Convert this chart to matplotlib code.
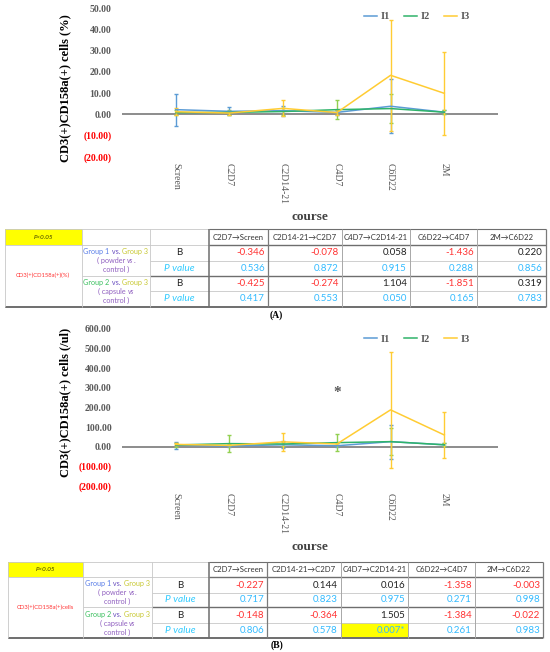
import numpy as np
import matplotlib
matplotlib.use("Agg")
import matplotlib.pyplot as plt
from matplotlib.patches import Rectangle
from matplotlib.lines import Line2D

W, H = 550, 652
SERIF = "Liberation Serif"
SANS = ["Lato", "DejaVu Sans"]

cats = ["Screen", "C2D7", "C2D14-21", "C4D7", "C6D22", "2M"]
series = ["I1", "I2", "I3"]

# chart A: CD3(+)CD158a(+) cells (%)
pct_i1 = [2.2, 1.4, 1.7, 0.9, 3.8, 1.0]
pct_i1_err = [7.5, 1.9, 2.4, 1.0, 12.7, 1.0]
pct_i2 = [0.8, 0.9, 1.3, 2.2, 2.7, 1.0]
pct_i2_err = [1.0, 1.0, 1.5, 4.5, 7.0, 1.0]
pct_i3 = [1.2, 0.6, 2.8, 0.8, 18.4, 9.9]
pct_i3_err = [1.7, 1.0, 3.8, 1.0, 26.3, 19.5]

# chart B: CD3(+)CD158a(+) cells (/ul)
cnt_i1 = [8, 4, 10, 5, 26, 10]
cnt_i1_err = [18, 6, 17, 6, 86, 8]
cnt_i2 = [9, 16, 14, 21, 26, 10]
cnt_i2_err = [8, 43, 10, 42, 70, 8]
cnt_i3 = [12, 7, 25, 14, 188, 60]
cnt_i3_err = [5, 5, 45, 5, 295, 115]

# tables
steps = ["C2D7\u2192Screen", "C2D14-21\u2192C2D7", "C4D7\u2192C2D14-21",
         "C6D22\u2192C4D7", "2M\u2192C6D22"]
a_b_g1 = [-0.346, -0.078, 0.058, -1.436, 0.220]
a_p_g1 = [0.536, 0.872, 0.915, 0.288, 0.856]
a_b_g2 = [-0.425, -0.274, 1.104, -1.851, 0.319]
a_p_g2 = [0.417, 0.553, 0.050, 0.165, 0.783]
b_b_g1 = [-0.227, 0.144, 0.016, -1.358, -0.003]
b_p_g1 = [0.717, 0.823, 0.975, 0.271, 0.998]
b_b_g2 = [-0.148, -0.364, 1.505, -1.384, -0.022]
b_p_g2 = [0.806, 0.578, 0.007, 0.261, 0.983]

line_cols = ["#5B9BD5", "#2FB36A", "#FFCC33"]
err_cols = ["#5B9BD5", "#92D050", "#FFCC33"]
GRAY = "#595959"

fig = plt.figure(figsize=(W / 100, H / 100), dpi=100)
bg = fig.add_axes([0, 0, 1, 1])
bg.set_xlim(0, W)
bg.set_ylim(H, 0)
bg.axis("off")


def px_axes(x0, x1, y0, y1):
    return fig.add_axes([x0 / W, 1 - y1 / H, (x1 - x0) / W, (y1 - y0) / H])


def fmt_tick(v):
    return "%.2f" % v if v >= 0 else "(%.2f)" % abs(v)


def draw_chart(ax, vals, errs, ylim, step, ylabel, ylab_pos, xlab_y, leg_y):
    x = np.arange(len(cats))
    for v, e, lc, ec in zip(vals, errs, line_cols, err_cols):
        ax.errorbar(x, v, yerr=e, color=lc, ecolor=ec, lw=1.1, elinewidth=1.0,
                    capsize=1.6, capthick=1.0)
    ax.axhline(0, color="#8C8C8C", lw=1.4, zorder=0)
    ax.set_xlim(-1, 6)
    ax.set_ylim(*ylim)
    ticks = np.arange(ylim[0], ylim[1] + step / 2, step)
    ax.set_yticks(ticks)
    ax.set_yticklabels([fmt_tick(t) for t in ticks], fontfamily=SERIF,
                       fontweight="bold", fontsize=7)
    for lab, t in zip(ax.get_yticklabels(), ticks):
        lab.set_color("#FF0000" if t < 0 else GRAY)
    ax.tick_params(axis="y", length=0, pad=7.5)
    ax.set_xticks(x)
    ax.set_xticklabels(cats, rotation=270, fontfamily=SERIF, fontsize=7, color=GRAY)
    ax.tick_params(axis="x", length=0, pad=4.7)
    for s in ax.spines.values():
        s.set_visible(False)
    ax.patch.set_alpha(0)
    ax.set_ylabel(ylabel, fontfamily=SERIF, fontweight="bold", fontsize=9)
    ax.yaxis.set_label_coords(*ylab_pos)
    ax.set_xlabel("course", fontfamily=SERIF, fontweight="bold", fontsize=9.5,
                  color="#404040")
    ax.xaxis.set_label_coords(0.5, xlab_y)
    handles = [Line2D([], [], color=c, lw=1.1) for c in line_cols]
    leg = ax.legend(handles, series, loc="center left", bbox_to_anchor=(0.644, leg_y),
                    ncol=3, frameon=False, handlelength=1.25, handletextpad=0.3,
                    columnspacing=1.4, borderaxespad=0, borderpad=0,
                    prop=dict(family=SERIF, weight="bold", size=7.5))
    for t in leg.get_texts():
        t.set_color(GRAY)


ax1 = px_axes(122, 498, 8.3, 156.7)
draw_chart(ax1, [pct_i1, pct_i2, pct_i3], [pct_i1_err, pct_i2_err, pct_i3_err],
           (-20, 50), 10, "CD3(+)CD158a(+) cells (%)", (-0.136, 0.46), -0.366, 0.943)

ax2 = px_axes(122, 498, 329, 486)
draw_chart(ax2, [cnt_i1, cnt_i2, cnt_i3], [cnt_i1_err, cnt_i2_err, cnt_i3_err],
           (-200, 600), 100, "CD3(+)CD158a(+) cells (/ul)", (-0.136, 0.53), -0.348, 0.934)
ax2.annotate("*", xy=(3, 294), xytext=(0, -5), textcoords="offset points",
             ha="center", va="baseline", fontsize=11, fontweight="bold",
             family=SERIF, color=GRAY)

renderer = fig.canvas.get_renderer()


def rich_text(xc, y, parts, size):
    texts = []
    for s, c, st in parts:
        texts.append(bg.text(0, y, s, color=c, fontsize=size, style=st,
                             family=SANS, ha="left", va="center"))
    widths = [t.get_window_extent(renderer).width for t in texts]
    x = xc - sum(widths) / 2
    for t, w in zip(texts, widths):
        t.set_x(x)
        x += w


def hline(y, x0, x1, dark=False, lw=None):
    bg.plot([x0, x1], [y, y], color="#6E6E6E" if dark else "#C8C8C8",
            lw=lw or (1.0 if dark else 0.6), solid_capstyle="butt")


def vline(x, y0, y1, col="#C8C8C8", lw=0.6):
    bg.plot([x, x], [y0, y1], color=col, lw=lw, solid_capstyle="butt")


def draw_table(xs, ys, row_label, b1, p1, b2, p2):
    bg.add_patch(Rectangle((xs[0], ys[0]), xs[1] - xs[0], ys[1] - ys[0],
                           color="#FFFF00", lw=0))
    for r, pv in ((3, p1), (4, p2)):
        for j, p in enumerate(pv):
            if p < 0.05:
                bg.add_patch(Rectangle((xs[3 + j], ys[r]), xs[4 + j] - xs[3 + j],
                                       ys[r + 1] - ys[r], color="#FFFF00", lw=0))
    # grid
    hline(ys[0], xs[0], xs[3])
    hline(ys[0], xs[3], xs[8], dark=True, lw=0.8)
    hline(ys[1], xs[0], xs[3])
    hline(ys[1], xs[3], xs[8], dark=True)
    hline(ys[2], xs[2], xs[8])
    hline(ys[3], xs[1], xs[2])
    hline(ys[3], xs[2], xs[8], dark=True)
    hline(ys[4], xs[2], xs[8])
    hline(ys[5], xs[0], xs[8], dark=True, lw=1.4)
    for k in (0, 1, 2):
        vline(xs[k], ys[0], ys[5])
    vline(xs[3], ys[0], ys[5], "#6E6E6E", 1.1)
    vline(xs[4], ys[0], ys[5], "#7A7A7A", 0.9)
    for k in (5, 6, 7):
        vline(xs[k], ys[0], ys[5], "#A8A8A8", 0.7)
    vline(xs[8], ys[0], ys[5], "#7A7A7A", 0.9)

    cy = lambda r: (ys[r] + ys[r + 1]) / 2
    bg.text((xs[0] + xs[1]) / 2, cy(0), "P<0.05", style="italic", fontsize=4.5,
            family=SANS, color="#3A3A00", ha="center", va="center")
    for j, s in enumerate(steps):
        bg.text((xs[3 + j] + xs[4 + j]) / 2, cy(0) + 0.3, s, fontsize=5.6,
                family=SANS, color="#333333", ha="center", va="center")
    bg.text((xs[0] + xs[1]) / 2, ys[3], row_label, fontsize=4.2, family=SANS,
            color="#FF3333", ha="center", va="center")

    xc1 = (xs[1] + xs[2]) / 2
    for r0, g, gc, desc in ((1, "Group 1", "#5B7FE8", "powder"),
                            (3, "Group 2", "#3CC060", "capsule")):
        top, bot = ys[r0], ys[r0 + 2]
        hh = (bot - top) / 3.4
        y0 = top + hh * 0.75
        rich_text(xc1, y0, [(g, gc, "normal"), (" vs.", "#6A4FC0", "normal"),
                            (" Group 3", "#C8C832", "normal")], 5.2)
        if desc == "powder":
            rich_text(xc1, y0 + hh, [("( powder ", "#9060C0", "normal"),
                                     ("vs", "#9060C0", "italic"),
                                     (".", "#9060C0", "normal")], 5.2)
        else:
            rich_text(xc1, y0 + hh, [("( capsule ", "#9060C0", "normal"),
                                     ("vs", "#9060C0", "italic")], 5.2)
        bg.text(xc1, y0 + 2 * hh, "control )", fontsize=5.2, family=SANS,
                color="#9060C0", ha="center", va="center")

    xc2 = (xs[2] + xs[3]) / 2
    for r, bv, pv in ((1, b1, p1), (3, b2, p2)):
        bg.text(xc2, cy(r), "B", fontsize=7, family=SANS, color="#222222",
                ha="center", va="center")
        bg.text(xc2, cy(r + 1), "P value", fontsize=7.3, family=SANS, style="italic",
                color="#33CCFF", ha="center", va="center")
        for j in range(5):
            xr = xs[4 + j] - 3
            bb = bv[j]
            bg.text(xr, cy(r), "%.3f" % bb, fontsize=7, family=SANS,
                    color="#FF3333" if bb < 0 else "#222222", ha="right", va="center")
            p = pv[j]
            bg.text(xr, cy(r + 1), "%.3f" % p + ("*" if p < 0.05 else ""), fontsize=7,
                    family=SANS, color="#33BBFF", ha="right", va="center")


draw_table([5, 81.5, 150, 209, 268, 341.5, 410, 477, 546],
           [229.3, 245, 260.5, 275.7, 291, 306.5],
           "CD3(+)CD158a(+)(%)", a_b_g1, a_p_g1, a_b_g2, a_p_g2)
draw_table([8, 83, 152, 209, 267, 340.5, 408, 475, 543],
           [561.7, 577.3, 592.7, 607.3, 622.7, 638.3],
           "CD3(+)CD158a(+)cells", b_b_g1, b_p_g1, b_b_g2, b_p_g2)

bg.text(276.7, 315, "(A)", family=SERIF, fontweight="bold", fontsize=7,
        ha="center", va="center")
bg.text(276.7, 645.5, "(B)", family=SERIF, fontweight="bold", fontsize=7,
        ha="center", va="center")

fig.savefig("out.png", dpi=100)
